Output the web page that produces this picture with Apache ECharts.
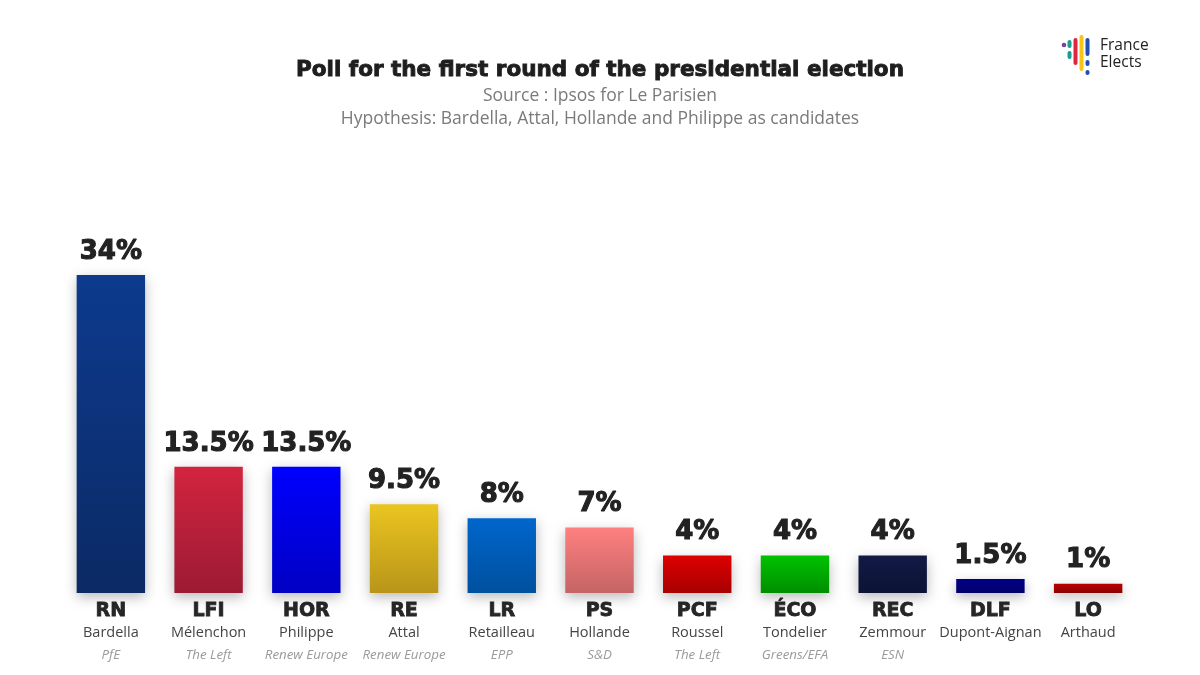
<!DOCTYPE html>
<html>
<head>
<meta charset="utf-8">
<script src="https://cdn.jsdelivr.net/npm/echarts@6/dist/echarts.min.js"></script>
<style>
html,body{margin:0;padding:0;background:#fff;}
#c{width:1200px;height:675px;}
</style>
</head>
<body>
<div id="c"></div>
<script>
const parties = ['RN','LFI','HOR','RE','LR','PS','PCF','ÉCO','REC','DLF','LO'];
const candidates = ['Bardella','Mélenchon','Philippe','Attal','Retailleau','Hollande','Roussel','Tondelier','Zemmour','Dupont-Aignan','Arthaud'];
const groups = ['PfE','The Left','Renew Europe','Renew Europe','EPP','S&D','The Left','Greens/EFA','ESN','',''];
const values = [34,13.5,13.5,9.5,8,7,4,4,4,1.5,1];

const topColors = ['#0d3a8e','#d2243f','#0000ff','#eac520','#0066cc','#ff8080','#dd0000','#00c200','#111a45','#000088','#bb0000'];
const bottomColors = ['#0b2a64','#9c1a33','#0000c4','#b8951a','#00509e','#c46464','#a80000','#008e00','#0c1336','#00006a','#8c0000'];

const chart = echarts.init(document.getElementById('c'));
const FONT_HEAVY = '"DejaVu Sans", sans-serif';
const FONT_TEXT = '"Open Sans", "Noto Sans", sans-serif';

chart.setOption({
  backgroundColor: '#ffffff',
  animation: false,
  title: [
    {
      text: 'Poll for the first round of the presidential election',
      left: 'center', top: 54,
      textStyle: {fontFamily: FONT_HEAVY, fontWeight: 'bold', fontSize: 21.5, color: '#1e1e1e',
        textBorderColor: '#1e1e1e', textBorderWidth: 0.9}
    },
    {
      text: 'Source : Ipsos for Le Parisien',
      left: 'center', top: 82,
      textStyle: {fontFamily: FONT_TEXT, fontWeight: 400, fontSize: 17.5, color: '#7a7a7a'}
    },
    {
      text: 'Hypothesis: Bardella, Attal, Hollande and Philippe as candidates',
      left: 'center', top: 105,
      textStyle: {fontFamily: FONT_TEXT, fontWeight: 400, fontSize: 17.5, color: '#7a7a7a'}
    }
  ],
  grid: {left: 62, right: 63, top: 219, bottom: 82, containLabel: false},
  xAxis: {
    type: 'category',
    data: parties,
    axisLine: {show: false},
    axisTick: {show: false},
    axisLabel: {
      interval: 0,
      margin: 7,
      formatter: function (v, i) {
        let s = '{a|' + v + '}\n{b|' + candidates[i] + '}';
        s += '\n{c|' + (groups[i] || ' ') + '}';
        return s;
      },
      rich: {
        a: {fontFamily: FONT_HEAVY, fontWeight: 'bold', fontSize: 19, color: '#262626', lineHeight: 22,
          textBorderColor: '#262626', textBorderWidth: 0.8},
        b: {fontFamily: FONT_TEXT, fontWeight: 400, fontSize: 14.5, color: '#444444', lineHeight: 22},
        c: {fontFamily: FONT_TEXT, fontStyle: 'italic', fontWeight: 400, fontSize: 13.3, color: '#9a9a9a', lineHeight: 22}
      }
    }
  },
  yAxis: {
    type: 'value', min: 0, max: 40, show: false,
    splitLine: {show: false}
  },
  series: [{
    type: 'bar',
    barWidth: '70%',
    data: values.map((v, i) => ({
      value: v,
      itemStyle: {
        color: new echarts.graphic.LinearGradient(0, 0, 0, 1, [
          {offset: 0, color: topColors[i]},
          {offset: 1, color: bottomColors[i]}
        ])
      }
    })),
    itemStyle: {
      shadowBlur: 12,
      shadowColor: 'rgba(0,0,0,0.28)',
      shadowOffsetY: 4
    },
    label: {
      show: true,
      position: 'top',
      distance: 10,
      formatter: p => p.value + '%',
      fontFamily: FONT_HEAVY,
      fontWeight: 'bold',
      fontSize: 26,
      color: '#222222',
      textBorderColor: '#222222',
      textBorderWidth: 1.1
    }
  }],
  graphic: [
    {type: 'circle', shape: {cx: 1064, cy: 45, r: 2.3}, style: {fill: '#7b3fa0'}},
    {type: 'rect', shape: {x: 1067.5, y: 40, width: 4, height: 8, r: 2}, style: {fill: '#1a9e8f'}},
    {type: 'rect', shape: {x: 1067.5, y: 51, width: 4, height: 8, r: 2}, style: {fill: '#1a9e8f'}},
    {type: 'rect', shape: {x: 1073.5, y: 38, width: 4, height: 27, r: 2}, style: {fill: '#e0263c'}},
    {type: 'rect', shape: {x: 1079.5, y: 35, width: 4, height: 36, r: 2}, style: {fill: '#f5c518'}},
    {type: 'rect', shape: {x: 1085.5, y: 38, width: 4, height: 18, r: 2}, style: {fill: '#1f4fb5'}},
    {type: 'rect', shape: {x: 1085.5, y: 60, width: 4, height: 6, r: 2}, style: {fill: '#1f4fb5'}},
    {type: 'rect', shape: {x: 1085.5, y: 70, width: 4, height: 5, r: 2}, style: {fill: '#1f4fb5'}},
    {type: 'text', left: 1100, top: 37, style: {text: 'France\nElects', fontFamily: FONT_TEXT, fontSize: 15.5, lineHeight: 17, fill: '#222222', fontWeight: 500}}
  ]
});
</script>
</body>
</html>
